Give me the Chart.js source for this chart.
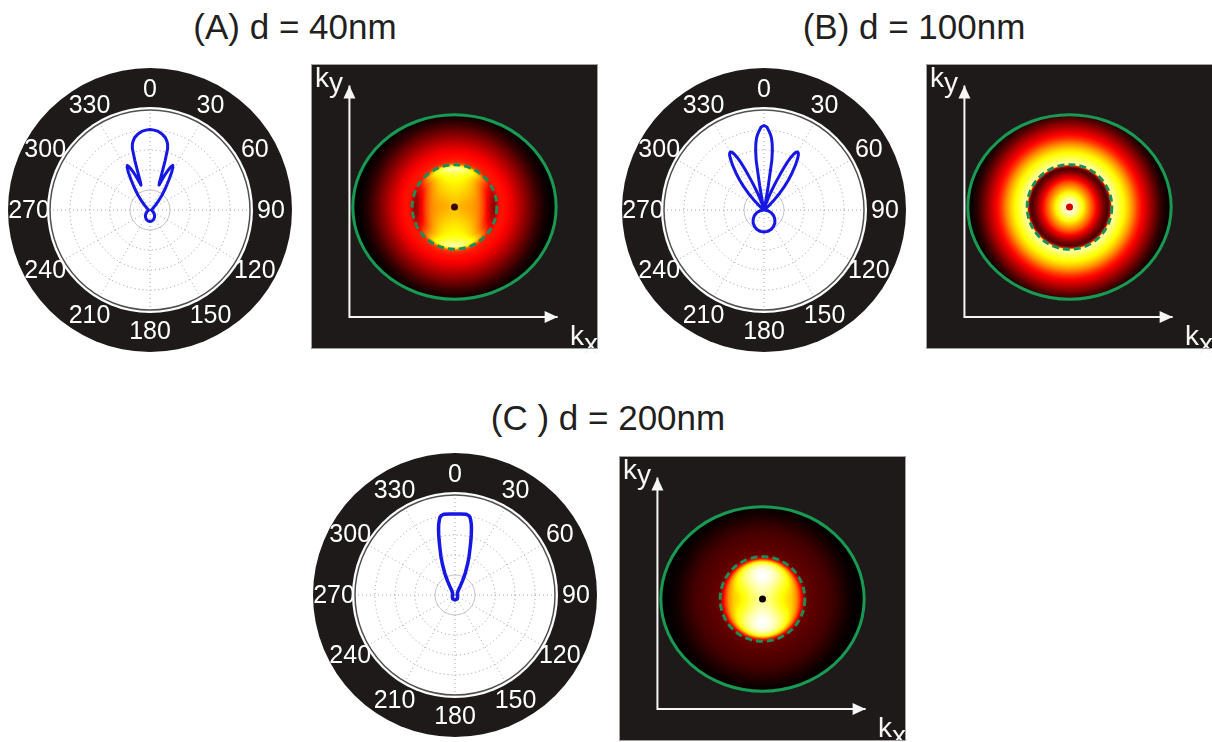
<!DOCTYPE html>
<html>
<head>
<meta charset="utf-8">
<script src="https://cdn.jsdelivr.net/npm/chart.js@4.4.0/dist/chart.umd.min.js"></script>
<style>
  html, body { margin: 0; padding: 0; background: #fff; width: 1212px; height: 742px; overflow: hidden; }
  body { position: relative; }
  canvas { position: absolute; }
  .title {
    position: absolute; white-space: nowrap; transform: translate(-50%, -50%);
    font-family: 'Liberation Sans', Arial, sans-serif; font-size: 35px; color: #231f20;
  }
</style>
</head>
<body>
<div class="title" style="left:295px; top:27px">(A) d = 40nm</div>
<div class="title" style="left:914px; top:27px">(B) d = 100nm</div>
<div class="title" style="left:608px; top:418px">(C ) d = 200nm</div>

<canvas id="polarA" width="290" height="290" style="left:5px; top:65px"></canvas>
<canvas id="heatA" width="295" height="293" style="left:307px; top:60px"></canvas>
<canvas id="polarB" width="290" height="290" style="left:619px; top:65px"></canvas>
<canvas id="heatB" width="295" height="293" style="left:922px; top:60px"></canvas>
<canvas id="polarC" width="290" height="290" style="left:310px; top:450px"></canvas>
<canvas id="heatC" width="295" height="293" style="left:615px; top:452px"></canvas>

<script>
// angle labels around the polar plots (degrees)
const angleTicks = ['0', '30', '60', '90', '120', '150', '180', '210', '240', '270', '300', '330'];

// radiation patterns: angle (deg, clockwise from top) and radius (% of outer circle)
const anglesA = [0, 3, 6, 9, 12, 14, 15, 16, 17, 18, 19, 20, 21, 22, 23, 24, 25, 26, 27, 28, 29, 30, 32, 35, 39, 44, 49, 55, 65, 80, 95, 110, 120, 130, 140, 150, 160, 170, 180,
  190, 200, 210, 220, 230, 240, 250, 265, 280, 295, 305, 311, 316, 321, 325, 328, 330, 331, 332, 333, 334, 335, 336, 337, 338, 339, 340, 341, 342, 343, 344, 345, 346, 348, 351, 354, 357];
const radiiA = [80.5, 80, 79, 77, 74, 70.5, 68, 64, 52, 38, 29, 26.5, 30, 34, 38, 42, 45.5, 48.5, 50, 48.5, 46, 43, 36, 27.5, 19, 11.5, 7, 4.5, 2.5, 1.5, 1.5, 2.2, 3.5, 5.3, 7.2, 8.8, 10.2, 11.2, 11.5,
  11.2, 10.2, 8.8, 7.2, 5.3, 3.5, 2.2, 1.5, 1.5, 2.5, 4.5, 7, 11.5, 19, 27.5, 36, 43, 46, 48.5, 50, 48.5, 45.5, 42, 38, 34, 30, 26.5, 29, 38, 52, 64, 68, 70.5, 74, 77, 79, 80];

const anglesB = [0, 2, 3, 4, 5, 6, 7, 8, 9, 10, 11, 12, 13, 16, 19, 21, 23, 25, 26, 27, 28, 29, 30, 31, 32, 33, 35, 37, 39, 41, 43, 45, 47, 50, 55, 65, 90, 100, 110, 120, 130, 140, 150, 160, 170, 180,
  190, 200, 210, 220, 230, 240, 250, 260, 270, 295, 305, 310, 313, 315, 317, 319, 321, 323, 325, 327, 328, 329, 330, 331, 332, 333, 334, 335, 337, 339, 341, 344, 347, 348, 349, 350, 351, 352, 353, 354, 355, 356, 357, 358];
const radiiB = [84.5, 83, 80.5, 78, 75.5, 72, 67, 60, 50, 25, 8, 3, 2, 5, 11, 19, 30, 45, 53, 59, 63.5, 66, 67, 66.5, 65, 62, 55, 47, 39, 31, 23, 15, 9, 4, 1.5, 0.5, 0.5, 3.8, 7.5, 11, 14.1, 16.9, 19, 20.7, 21.7, 22,
  21.7, 20.7, 19, 16.9, 14.1, 11, 7.5, 3.8, 0.5, 0.5, 1.5, 4, 9, 15, 23, 31, 39, 47, 55, 62, 65, 66.5, 67, 66, 63.5, 59, 53, 45, 30, 19, 11, 5, 2, 3, 8, 25, 50, 60, 67, 72, 75.5, 78, 80.5, 83];

const anglesC = [0, 4, 8, 10, 11, 12, 13, 14, 15, 16, 17, 18, 20, 22, 25, 28, 31, 35, 45, 70, 90, 120, 150, 180,
  210, 240, 270, 290, 315, 325, 329, 332, 335, 338, 340, 342, 343, 344, 345, 346, 347, 348, 349, 350, 352, 356];
const radiiC = [81, 81.3, 81.5, 80.5, 79, 76, 72.5, 68, 63, 58, 53, 48.5, 41, 34, 24.5, 16, 10, 6, 3.5, 2.5, 2.5, 3, 4.5, 5,
  4.5, 3, 2.5, 2.5, 3.5, 6, 10, 16, 24.5, 34, 41, 48.5, 53, 58, 63, 68, 72.5, 76, 79, 80.5, 81.5, 81.3];

// k-space intensity (0..1, hot colour map) versus radius |k|/k0 along the horizontal and vertical directions
const rhoGrid = [0, 0.05, 0.1, 0.15, 0.2, 0.25, 0.3, 0.35, 0.38, 0.4, 0.42, 0.44, 0.46, 0.5, 0.55, 0.6, 0.65, 0.7, 0.75, 0.8, 0.85, 0.9, 0.95, 1.0, 1.1];
const heatAvert = [0.67, 0.67, 0.68, 0.70, 0.72, 0.74, 0.77, 0.83, 0.90, 0.92, 0.80, 0.54, 0.44, 0.40, 0.38, 0.34, 0.29, 0.24, 0.19, 0.14, 0.09, 0.05, 0.02, 0, 0];
const heatAhorz = [0.64, 0.64, 0.63, 0.62, 0.60, 0.56, 0.47, 0.33, 0.25, 0.21, 0.22, 0.31, 0.39, 0.40, 0.38, 0.34, 0.29, 0.24, 0.19, 0.14, 0.09, 0.05, 0.02, 0, 0];
const heatBvert = [0.98, 0.96, 0.87, 0.74, 0.62, 0.50, 0.35, 0.21, 0.14, 0.12, 0.30, 0.92, 0.90, 0.83, 0.76, 0.68, 0.58, 0.46, 0.37, 0.29, 0.21, 0.13, 0.06, 0.02, 0];
const heatBhorz = [0.98, 0.95, 0.85, 0.72, 0.58, 0.45, 0.30, 0.18, 0.12, 0.11, 0.28, 0.90, 0.90, 0.83, 0.76, 0.68, 0.58, 0.46, 0.37, 0.29, 0.21, 0.13, 0.06, 0.02, 0];
const heatCvert = [0.90, 0.91, 0.93, 0.96, 0.99, 1.0, 0.98, 0.90, 0.75, 0.55, 0.33, 0.18, 0.15, 0.14, 0.13, 0.12, 0.11, 0.10, 0.08, 0.06, 0.04, 0.02, 0.01, 0, 0];
const heatChorz = [0.90, 0.88, 0.85, 0.80, 0.75, 0.71, 0.67, 0.58, 0.47, 0.38, 0.27, 0.17, 0.15, 0.14, 0.13, 0.12, 0.11, 0.10, 0.08, 0.06, 0.04, 0.02, 0.01, 0, 0];

// numerical aperture ellipse (semi-axes) and the dashed critical circle, in k units
const naEllipse = [1.045, 0.948];
const criticalRadius = 0.435;

const degreeLabels = Array.from({ length: 360 }, (_, i) => i);
const FONT = '"Liberation Sans", Arial, sans-serif';

function toRadar(angles, radii) {
  const data = new Array(360).fill(null);
  angles.forEach((a, i) => { data[a] = radii[i]; });
  return data;
}

const polarFrame = {
  id: 'polarFrame',
  beforeDraw(chart) {
    const r = chart.scales.r;
    const ctx = chart.ctx;
    const R = r.drawingArea;
    ctx.save();
    ctx.fillStyle = '#1e1a1a';
    ctx.beginPath();
    ctx.arc(r.xCenter, r.yCenter, R + 42, 0, Math.PI * 2);
    ctx.fill();
    ctx.fillStyle = '#ffffff';
    ctx.beginPath();
    ctx.arc(r.xCenter, r.yCenter, R + 3, 0, Math.PI * 2);
    ctx.fill();
    ctx.restore();
  },
  afterDraw(chart) {
    const r = chart.scales.r;
    const ctx = chart.ctx;
    ctx.save();
    ctx.font = '25px ' + FONT;
    ctx.fillStyle = '#ffffff';
    ctx.textAlign = 'center';
    ctx.textBaseline = 'middle';
    for (const t of angleTicks) {
      const p = r.getPointPosition(Number(t), r.drawingArea + 21);
      ctx.fillText(t, p.x, p.y + 1);
    }
    ctx.restore();
  }
};

function makePolar(id, angles, radii, width) {
  return new Chart(document.getElementById(id), {
    type: 'radar',
    data: {
      labels: degreeLabels,
      datasets: [{
        data: toRadar(angles, radii),
        borderColor: '#1717e3',
        borderWidth: width,
        borderJoinStyle: 'round',
        pointRadius: 0,
        pointHoverRadius: 0,
        fill: false,
        spanGaps: true,
        tension: 0
      }]
    },
    options: {
      responsive: false,
      animation: false,
      devicePixelRatio: 1,
      events: [],
      layout: { padding: 45 },
      plugins: { legend: { display: false }, tooltip: { enabled: false } },
      scales: {
        r: {
          min: 0,
          max: 100,
          ticks: { display: false, stepSize: 20 },
          pointLabels: { display: false },
          grid: {
            circular: true,
            color: c => c.index === 5 ? '#505050' : (c.index === 1 ? '#c4c4c4' : '#9c9c9c'),
            lineWidth: c => c.index === 5 ? 1.5 : 1
          },
          border: { dash: c => (c.index === 5 || c.index === 1) ? [] : [1, 3] },
          angleLines: {
            color: c => c.index % 30 === 0 ? '#a8a8a8' : 'rgba(0,0,0,0)',
            lineWidth: c => c.index % 30 === 0 ? 1 : 0,
            borderDash: [1, 3]
          }
        }
      }
    },
    plugins: [polarFrame]
  });
}

function hot(v) {
  v = Math.max(0, Math.min(1, v));
  return [
    255 * Math.min(1, v / 0.375),
    255 * Math.max(0, Math.min(1, (v - 0.375) / 0.375)),
    255 * Math.max(0, (v - 0.75) / 0.25)
  ];
}

function profileAt(profile, rho) {
  if (rho >= rhoGrid[rhoGrid.length - 1]) return profile[profile.length - 1];
  let i = 0;
  while (rhoGrid[i + 1] < rho) i++;
  const t = (rho - rhoGrid[i]) / (rhoGrid[i + 1] - rhoGrid[i]);
  return profile[i] + t * (profile[i + 1] - profile[i]);
}

function arrowHead(ctx, x, y, dx, dy) {
  const len = 13, half = 6;
  ctx.beginPath();
  ctx.moveTo(x, y);
  ctx.lineTo(x - dx * len - dy * half, y - dy * len + dx * half);
  ctx.lineTo(x - dx * len + dy * half, y - dy * len - dx * half);
  ctx.closePath();
  ctx.fill();
}

function kLabel(ctx, x, y, sub, drop) {
  ctx.font = '28px ' + FONT;
  ctx.fillText('k', x, y);
  const w = ctx.measureText('k').width;
  ctx.fillText(sub, x + w, y + drop);
}

const heatPlugin = {
  id: 'heat',
  beforeDatasetsDraw(chart, args, opts) {
    const { ctx, chartArea: a, scales: { x, y } } = chart;
    const w = Math.round(a.right - a.left), h = Math.round(a.bottom - a.top);
    const img = ctx.createImageData(w, h);
    const bg = [30, 26, 25];
    for (let j = 0; j < h; j++) {
      const ky = y.getValueForPixel(a.top + j + 0.5);
      for (let i = 0; i < w; i++) {
        const kx = x.getValueForPixel(a.left + i + 0.5);
        const e = (kx / naEllipse[0]) ** 2 + (ky / naEllipse[1]) ** 2;
        let c = bg;
        if (e <= 1) {
          const rho = Math.hypot(kx, ky);
          const wh = rho > 0 ? (kx * kx) / (rho * rho) : 0.5;
          const v = wh * profileAt(opts.horz, rho) + (1 - wh) * profileAt(opts.vert, rho);
          c = hot(v);
        }
        const k = (j * w + i) * 4;
        img.data[k] = c[0];
        img.data[k + 1] = c[1];
        img.data[k + 2] = c[2];
        img.data[k + 3] = 255;
      }
    }
    ctx.putImageData(img, a.left, a.top);

    const cx = x.getPixelForValue(0), cy = y.getPixelForValue(0);
    ctx.save();
    ctx.strokeStyle = '#189a52';
    ctx.lineWidth = 3;
    ctx.beginPath();
    ctx.ellipse(cx, cy, x.getPixelForValue(naEllipse[0]) - cx, cy - y.getPixelForValue(naEllipse[1]), 0, 0, Math.PI * 2);
    ctx.stroke();
    ctx.strokeStyle = '#1f8c55';
    ctx.setLineDash([7, 4]);
    ctx.beginPath();
    ctx.arc(cx, cy, x.getPixelForValue(criticalRadius) - cx, 0, Math.PI * 2);
    ctx.stroke();
    ctx.restore();
  },
  afterDatasetsDraw(chart) {
    const { ctx, chartArea: a, scales: { x, y } } = chart;
    const axis = chart.data.datasets[0].data;
    ctx.save();
    ctx.fillStyle = '#f6f6f6';
    arrowHead(ctx, x.getPixelForValue(axis[0].x), y.getPixelForValue(axis[0].y), 0, -1);
    arrowHead(ctx, x.getPixelForValue(axis[2].x), y.getPixelForValue(axis[2].y), 1, 0);
    ctx.textBaseline = 'alphabetic';
    kLabel(ctx, a.left + 4, a.top + 23, 'y', 5);
    kLabel(ctx, a.left + 259, a.top + 281, 'x', 8);
    ctx.strokeStyle = '#a0a0a0';
    ctx.lineWidth = 1;
    ctx.strokeRect(a.left + 0.5, a.top + 0.5, a.right - a.left - 1, a.bottom - a.top - 1);
    ctx.restore();
  }
};

function makeHeat(id, horz, vert, dotColor) {
  return new Chart(document.getElementById(id), {
    type: 'scatter',
    data: {
      datasets: [
        {
          data: [{ x: -1.08, y: 1.25 }, { x: -1.08, y: -1.13 }, { x: 1.06, y: -1.13 }],
          showLine: true,
          borderColor: '#f6f6f6',
          borderWidth: 2,
          pointRadius: 0
        },
        {
          data: [{ x: 0, y: 0 }],
          pointRadius: 3.5,
          backgroundColor: dotColor,
          borderWidth: 0
        }
      ]
    },
    options: {
      responsive: false,
      animation: false,
      devicePixelRatio: 1,
      events: [],
      layout: { padding: 0 },
      scales: {
        x: { type: 'linear', min: -1.475, max: 1.475, display: false },
        y: { type: 'linear', min: -1.46, max: 1.47, display: false }
      },
      plugins: {
        legend: { display: false },
        tooltip: { enabled: false },
        heat: { horz, vert }
      }
    },
    plugins: [heatPlugin]
  });
}

makePolar('polarA', anglesA, radiiA, 3);
makePolar('polarB', anglesB, radiiB, 3);
makePolar('polarC', anglesC, radiiC, 3.5);
makeHeat('heatA', heatAhorz, heatAvert, '#3a0505');
makeHeat('heatB', heatBhorz, heatBvert, '#d40000');
makeHeat('heatC', heatChorz, heatCvert, '#0a0505');
</script>
</body>
</html>
